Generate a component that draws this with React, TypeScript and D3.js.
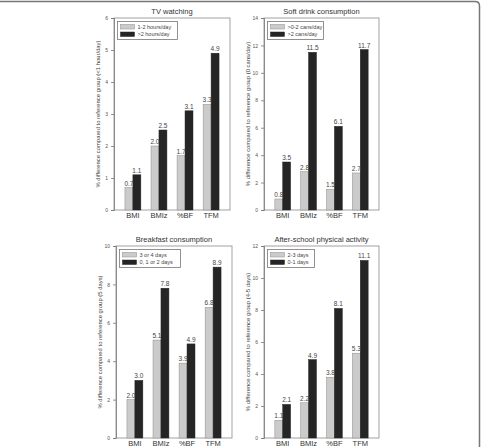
import React, { useEffect, useRef } from "react";
import * as d3 from "d3";

// categories shared by all four panels
const categories = ["BMI", "BMIz", "%BF", "TFM"];

// TV watching
const tvLow = [0.7, 2.0, 1.7, 3.3];
const tvHigh = [1.1, 2.5, 3.1, 4.9];
// Soft drink consumption
const sodaLow = [0.8, 2.8, 1.5, 2.7];
const sodaHigh = [3.5, 11.5, 6.1, 11.7];
// Breakfast consumption
const breakfastLow = [2.0, 5.1, 3.9, 6.8];
const breakfastHigh = [3.0, 7.8, 4.9, 8.9];
// After-school physical activity
const activityLow = [1.1, 2.2, 3.8, 5.3];
const activityHigh = [2.1, 4.9, 8.1, 11.1];

const titles = [
  "TV watching",
  "Soft drink consumption",
  "Breakfast consumption",
  "After-school physical activity",
];
const yTitles = [
  "% difference compared to reference group (<1 hour/day)",
  "% difference compared to reference group (0 cans/day)",
  "% difference compared to reference group (5 days)",
  "% difference compared to reference group (4-5 days)",
];
const legendLabels = [
  ["1-2 hours/day", ">2 hours/day"],
  [">0-2 cans/day", ">2 cans/day"],
  ["3 or 4 days", "0, 1 or 2 days"],
  ["2-3 days", "0-1 days"],
];
const yMax = [6, 14, 10, 12];
const yStep = [1, 2, 2, 2];

const font = "Liberation Sans, Arial, sans-serif";

const App = () => {
  const ref = useRef(null);

  useEffect(() => {
    const width = 482;
    const height = 447;
    const svg = d3.select(ref.current);
    svg.selectAll("*").remove();
    svg.attr("width", width).attr("height", height);

    // outer frame (top and right edges only)
    svg.append("path")
      .attr("d", `M0,1.5 H475 Q479.5,1.5 479.5,6 V${height}`)
      .attr("fill", "none")
      .attr("stroke", "#777")
      .attr("stroke-width", 1.5);

    const panels = [
      { low: tvLow, high: tvHigh, left: 114, right: 230, top: 18, bottom: 210, legW: 60 },
      { low: sodaLow, high: sodaHigh, left: 264, right: 379, top: 18, bottom: 210, legW: 56 },
      { low: breakfastLow, high: breakfastHigh, left: 116, right: 232, top: 246, bottom: 438, legW: 61 },
      { low: activityLow, high: activityHigh, left: 264, right: 379, top: 246, bottom: 438, legW: 47 },
    ];

    panels.forEach((p, i) => {
      const g = svg.append("g");

      const x = d3.scaleBand()
        .domain(categories)
        .range([p.left, p.right])
        .paddingInner(0.39)
        .paddingOuter(0.42);
      const sub = d3.scaleBand()
        .domain(["low", "high"])
        .range([0, x.bandwidth()]);
      const y = d3.scaleLinear()
        .domain([0, yMax[i]])
        .range([p.bottom, p.top]);

      // plot frame
      g.append("rect")
        .attr("x", p.left)
        .attr("y", p.top)
        .attr("width", p.right - p.left)
        .attr("height", p.bottom - p.top)
        .attr("fill", "none")
        .attr("stroke", "#8a8a8a")
        .attr("stroke-width", 0.8);

      // y axis
      const ticks = d3.range(0, yMax[i] + 0.001, yStep[i]);
      const yAxis = d3.axisLeft(y).tickValues(ticks).tickSize(3).tickPadding(3).tickFormat(d3.format("d"));
      const ya = g.append("g").attr("transform", `translate(${p.left},0)`).call(yAxis);
      ya.select(".domain").attr("stroke", "#777").attr("stroke-width", 0.8);
      ya.selectAll(".tick line").attr("stroke", "#777").attr("stroke-width", 0.8);
      ya.selectAll(".tick text")
        .attr("fill", "#555")
        .attr("font-size", 5)
        .attr("font-family", font);

      // x labels
      g.append("g")
        .selectAll("text")
        .data(categories)
        .join("text")
        .attr("x", (d) => x(d) + x.bandwidth() / 2)
        .attr("y", p.bottom + 8)
        .attr("text-anchor", "middle")
        .attr("font-size", 7.5)
        .attr("fill", "#333")
        .attr("font-family", font)
        .text((d) => d);

      const rows = categories.flatMap((c, k) => [
        { c, key: "low", v: p.low[k] },
        { c, key: "high", v: p.high[k] },
      ]);

      // bars
      g.append("g")
        .selectAll("rect")
        .data(rows)
        .join("rect")
        .attr("x", (d) => x(d.c) + sub(d.key))
        .attr("y", (d) => y(d.v))
        .attr("width", sub.bandwidth())
        .attr("height", (d) => y(0) - y(d.v))
        .attr("fill", (d) => (d.key === "low" ? "#cbcbcb" : "#252525"))
        .attr("stroke", (d) => (d.key === "low" ? "#8c8c8c" : "#252525"))
        .attr("stroke-width", 0.5);

      // value labels
      g.append("g")
        .selectAll("text")
        .data(rows)
        .join("text")
        .attr("x", (d) => x(d.c) + sub(d.key) + sub.bandwidth() / 2)
        .attr("y", (d) => y(d.v) - 2)
        .attr("text-anchor", "middle")
        .attr("font-size", 6.5)
        .attr("fill", "#444")
        .attr("font-family", font)
        .text((d) => d.v.toFixed(1));

      // title
      g.append("text")
        .attr("x", (p.left + p.right) / 2)
        .attr("y", p.top - 4.5)
        .attr("text-anchor", "middle")
        .attr("font-size", 7.5)
        .attr("fill", "#333")
        .attr("font-family", font)
        .text(titles[i]);

      // y title
      g.append("text")
        .attr("transform", `translate(${p.left - 14},${(p.top + p.bottom) / 2}) rotate(-90)`)
        .attr("text-anchor", "middle")
        .attr("font-size", 5.9)
        .attr("fill", "#444")
        .attr("font-family", font)
        .text(yTitles[i]);

      // legend
      const lx = p.left + 3.5;
      const ly = p.top + 3.5;
      const lg = g.append("g");
      lg.append("rect")
        .attr("x", lx)
        .attr("y", ly)
        .attr("width", p.legW)
        .attr("height", 18)
        .attr("fill", "#fff")
        .attr("stroke", "#777")
        .attr("stroke-width", 0.8);
      legendLabels[i].forEach((lab, k) => {
        lg.append("rect")
          .attr("x", lx + 3)
          .attr("y", ly + 3 + k * 7.5)
          .attr("width", 14)
          .attr("height", 4.5)
          .attr("fill", k === 0 ? "#cbcbcb" : "#252525")
          .attr("stroke", k === 0 ? "#8c8c8c" : "#252525")
          .attr("stroke-width", 0.5);
        lg.append("text")
          .attr("x", lx + 20)
          .attr("y", ly + 7.3 + k * 7.5)
          .attr("font-size", 5.5)
          .attr("fill", "#444")
          .attr("font-family", font)
          .text(lab);
      });
    });
  }, []);

  return (
    <div style={{ position: "absolute", left: 0, top: 0 }}>
      <svg ref={ref} style={{ display: "block", background: "#fff" }}></svg>
    </div>
  );
};

export default App;
